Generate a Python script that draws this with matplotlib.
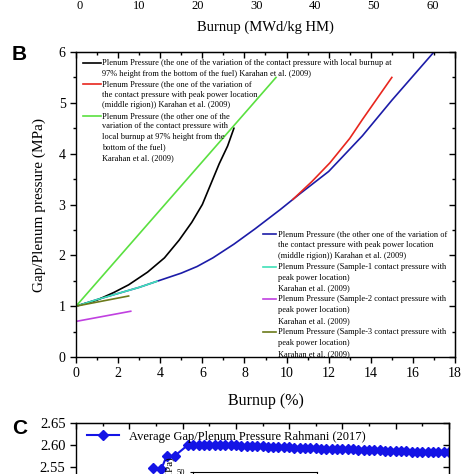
import matplotlib
matplotlib.use('Agg')
import matplotlib.pyplot as plt
from matplotlib.ticker import MultipleLocator

plt.rcParams['font.family'] = ['Liberation Serif', 'DejaVu Serif']

# panel B data: burnup (%) vs gap/plenum pressure (MPa)
black_x = [0, 1, 1.8, 2.5, 3.4, 4.2, 4.9, 5.5, 6.0, 6.4, 6.8, 7.2, 7.5]
black_y = [1, 1.12, 1.27, 1.42, 1.67, 1.95, 2.3, 2.65, 3.0, 3.4, 3.8, 4.15, 4.5]
red_x = [10.3, 11.2, 12.06, 13, 13.6, 15]
red_y = [3.1, 3.45, 3.82, 4.3, 4.67, 5.5]
green_x = [0, 9.5]
green_y = [1, 5.5]
blue_x = [0, 1, 2, 3, 3.85, 5, 5.75, 6.5, 7.5, 8.5, 9.7, 10.6, 12, 13.6, 15, 17]
blue_y = [1, 1.13, 1.25, 1.37, 1.49, 1.65, 1.78, 1.95, 2.22, 2.52, 2.9, 3.2, 3.65, 4.35, 5.05, 6.0]
cyan_x = [0, 1, 2, 3, 3.85]
cyan_y = [1, 1.13, 1.25, 1.37, 1.49]
purple_x = [0, 2.6]
purple_y = [0.7, 0.9]
olive_x = [0, 2.5]
olive_y = [1, 1.2]

# panel C data (only the top is visible)
c_x = [14.5, 16, 17, 18.5, 21, 22, 23, 24, 25, 26, 27, 28, 29, 30, 31, 32, 33, 34,
       35, 36, 37, 38, 39, 40, 41, 42, 43, 44, 45, 46, 47, 48, 49, 50, 51, 52, 53,
       54, 55, 56, 57, 58, 59, 60, 61, 62, 63, 64, 65, 66, 67, 68, 69, 70]
c_y = [2.548, 2.545, 2.575, 2.575, 2.600, 2.600, 2.600, 2.600, 2.600, 2.600,
       2.600, 2.599, 2.599, 2.599, 2.598, 2.598, 2.597, 2.597, 2.597, 2.596, 2.596,
       2.595, 2.595, 2.595, 2.594, 2.594, 2.593, 2.593, 2.593, 2.592, 2.592, 2.591,
       2.591, 2.591, 2.590, 2.590, 2.589, 2.589, 2.589, 2.588, 2.588, 2.587, 2.587,
       2.587, 2.586, 2.586, 2.585, 2.585, 2.585, 2.584, 2.584, 2.584, 2.583, 2.583]

legend_top = [
    ('black', ['Plenum Pressure (the one of the variation of the contact pressure with local burnup at',
               '97% height from the bottom of the fuel) Karahan et al. (2009)']),
    ('#e8261e', ['Plenum Pressure (the one of the variation of',
                 'the contact pressure with peak power location',
                 '(middle rigion)) Karahan et al. (2009)']),
    ('#5ae040', ['Plenum Pressure (the other one of the',
                 'variation of the contact pressure with',
                 'local burnup at 97% height from the',
                 'bottom of the fuel)',
                 'Karahan et al. (2009)']),
]
legend_bottom = [
    ('#1c1ca8', ['Plenum Pressure (the other one of the variation of',
                 'the contact pressure with peak power location',
                 '(middle rigion)) Karahan et al. (2009)']),
    ('#40e0b8', ['Plenum Pressure (Sample-1 contact pressure with',
                 'peak power location)',
                 'Karahan et al. (2009)']),
    ('#c040e0', ['Plenum Pressure (Sample-2 contact pressure with',
                 'peak power location)',
                 'Karahan et al. (2009)']),
    ('#6b7a1a', ['Plenum Pressure (Sample-3 contact pressure with',
                 'peak power location)',
                 'Karahan et al. (2009)']),
]

W = 474
fig = plt.figure(figsize=(4.74, 4.74), dpi=100)


def fx(px):
    return px / W


def fy(py):
    return 1 - py / W


def style(ax, xmaj, xmin, ymaj, ymin, fs):
    ax.xaxis.set_major_locator(MultipleLocator(xmaj))
    ax.xaxis.set_minor_locator(MultipleLocator(xmin))
    ax.yaxis.set_major_locator(MultipleLocator(ymaj))
    if ymin:
        ax.yaxis.set_minor_locator(MultipleLocator(ymin))
    ax.tick_params(which='both', direction='out', width=1, labelsize=fs)
    ax.tick_params(which='major', length=4)
    ax.tick_params(which='minor', length=2.5)
    for s in ax.spines.values():
        s.set_linewidth(1)
    top = ax.secondary_xaxis('top')
    top.xaxis.set_major_locator(MultipleLocator(xmaj))
    top.xaxis.set_minor_locator(MultipleLocator(xmin))
    top.tick_params(which='both', direction='in', labeltop=False, width=1)
    top.tick_params(which='major', length=4)
    top.tick_params(which='minor', length=2.5)
    right = ax.secondary_yaxis('right')
    right.yaxis.set_major_locator(MultipleLocator(ymaj))
    if ymin:
        right.yaxis.set_minor_locator(MultipleLocator(ymin))
    right.tick_params(which='both', direction='in', labelright=False, width=1)
    right.tick_params(which='major', length=4)
    right.tick_params(which='minor', length=2.5)


# panel A (only the x axis labels are visible)
axa = fig.add_axes([fx(80), fy(-10), fx(370), 0.3])
axa.set_xlim(0, 63)
style(axa, 10, 5, 10, 5, 9)
axa.set_xlabel('Burnup (MWd/kg HM)', fontsize=10.5, labelpad=6)

# panel B
axb = fig.add_axes([fx(76), fy(357), fx(379), fx(305)])
axb.plot(blue_x, blue_y, color='#1c1ca8', lw=1.2)
axb.plot(red_x, red_y, color='#e8261e', lw=1.2)
axb.plot(black_x, black_y, color='black', lw=1.2)
axb.plot(cyan_x, cyan_y, color='#40e0b8', lw=1.2)
axb.plot(green_x, green_y, color='#5ae040', lw=1.2)
axb.plot(purple_x, purple_y, color='#c040e0', lw=1.2)
axb.plot(olive_x, olive_y, color='#6b7a1a', lw=1.2)
axb.set_xlim(0, 18)
axb.set_ylim(0, 6)
style(axb, 2, 1, 1, 0.5, 10)
axb.set_xlabel('Burnup (%)', fontsize=11.5, labelpad=9)
axb.set_ylabel('Gap/Plenum pressure (MPa)', fontsize=11, labelpad=9)


def draw_legend(entries, h0, h1, tx, y0, dy):
    k = 0
    for color, lines in entries:
        fig.add_artist(plt.Line2D([fx(h0), fx(h1)], [fy(y0 + k * dy)] * 2,
                                  color=color, lw=1.2, transform=fig.transFigure))
        for line in lines:
            fig.text(fx(tx), fy(y0 + k * dy), line, fontsize=6, va='center', ha='left')
            k += 1


draw_legend(legend_top, 83, 101, 102, 63, 10.55)
draw_legend(legend_bottom, 263, 276, 278, 234, 10.9)

fig.text(fx(12), fy(55), 'B', fontsize=15, fontweight='bold',
         family='Liberation Sans', va='center', ha='left')

# panel C (cut off at the bottom of the picture)
axc = fig.add_axes([fx(76), fy(511), fx(373), fx(88)])
axc.plot(c_x, c_y, color='#1414e6', lw=1.5, marker='D', markersize=5,
         label='Average Gap/Plenum Pressure Rahmani (2017)')
axc.set_xlim(0, 70)
axc.set_ylim(2.45, 2.65)
style(axc, 10, 5, 0.05, None, 10.5)
axc.yaxis.set_major_formatter(matplotlib.ticker.FormatStrFormatter('%.2f'))
axc.legend(loc='upper left', frameon=False, fontsize=9, handlelength=2.6,
           borderaxespad=0.3, bbox_to_anchor=(0.005, 1.01))

ins = fig.add_axes([fx(193), fy(512), fx(124), fx(40)])
ins.set_ylim(0, 50)
ins.set_yticks([50])
ins.set_xticks([])
ins.tick_params(labelsize=6, length=2, width=0.8)
ins.set_ylabel('Pressure (MPa)', fontsize=8, labelpad=1)
for s in ins.spines.values():
    s.set_linewidth(0.8)

fig.text(fx(12), fy(429), 'C', fontsize=15, fontweight='bold',
         family='Liberation Sans', va='center', ha='left')

fig.savefig('out.png', dpi=100)
